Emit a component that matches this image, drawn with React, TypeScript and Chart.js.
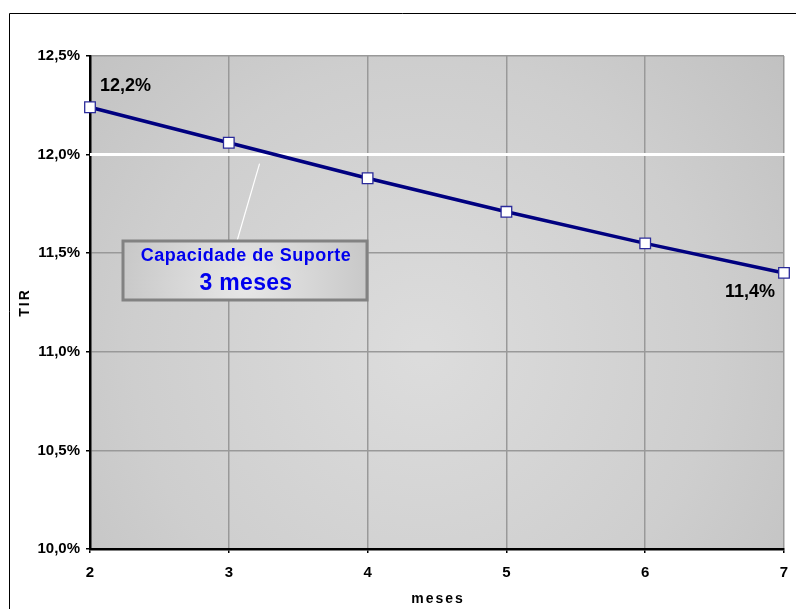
import React, { useEffect, useRef } from "react";
import { Chart, registerables } from "chart.js";

Chart.register(...registerables);

const months = [2, 3, 4, 5, 6, 7];
const tirValues = [12.24, 12.06, 11.88, 11.71, 11.55, 11.4];
const referenceLevel = 12.0;
const yTicks = [10.0, 10.5, 11.0, 11.5, 12.0, 12.5];
const firstLabel = "12,2%";
const lastLabel = "11,4%";
const calloutLines = ["Capacidade de Suporte", "3 meses"];
const xTitle = "meses";
const yTitle = "TIR";

const fmtPct = (v: number) => v.toFixed(1).replace(".", ",") + "%";

const FONT = "'Liberation Sans', Arial, sans-serif";

const decorPlugin = {
  id: "decor",
  beforeDraw(chart: any) {
    const { ctx, chartArea: a } = chart;
    ctx.save();
    const cx = a.left + (a.right - a.left) * 0.48;
    const cy = a.top + (a.bottom - a.top) * 0.6;
    const g = ctx.createRadialGradient(cx, cy, 10, cx, cy, 520);
    g.addColorStop(0, "#dcdcdc");
    g.addColorStop(0.55, "#cecece");
    g.addColorStop(1, "#bdbdbd");
    ctx.fillStyle = g;
    ctx.fillRect(a.left, a.top, a.right - a.left, a.bottom - a.top);
    // outer frame
    ctx.strokeStyle = "#000";
    ctx.lineWidth = 1;
    ctx.beginPath();
    ctx.moveTo(9.5, chart.height);
    ctx.lineTo(9.5, 13.5);
    ctx.lineTo(chart.width, 13.5);
    ctx.stroke();
    ctx.restore();
  },
  beforeDatasetsDraw(chart: any) {
    const { ctx, chartArea: a, scales } = chart;
    const y = scales.y.getPixelForValue(referenceLevel);
    ctx.save();
    ctx.strokeStyle = "#ffffff";
    ctx.lineWidth = 3;
    ctx.beginPath();
    ctx.moveTo(a.left, y);
    ctx.lineTo(a.right + 1, y);
    ctx.stroke();
    ctx.restore();
  },
  afterDraw(chart: any) {
    const { ctx, chartArea: a, scales } = chart;
    const meta = chart.getDatasetMeta(0);
    const p0 = meta.data[0];
    const pN = meta.data[meta.data.length - 1];
    ctx.save();
    ctx.fillStyle = "#000";
    ctx.font = `bold 18px ${FONT}`;
    ctx.textBaseline = "middle";
    ctx.textAlign = "left";
    ctx.fillText(firstLabel, p0.x + 10, p0.y - 21);
    ctx.textAlign = "right";
    ctx.fillText(lastLabel, pN.x - 9, pN.y + 19);

    // axis titles
    ctx.font = `bold 14px ${FONT}`;
    (ctx as any).letterSpacing = "2px";
    ctx.textAlign = "center";
    ctx.fillText(xTitle, (a.left + a.right) / 2 + 1, 599);
    ctx.save();
    ctx.translate(25, (a.top + a.bottom) / 2);
    ctx.rotate(-Math.PI / 2);
    ctx.fillText(yTitle, 0, 0);
    ctx.restore();
    (ctx as any).letterSpacing = "0px";

    // callout
    const bx = 123, by = 241, bw = 244, bh = 59;
    const ix = scales.x.getPixelForValue(3.2);
    const iy = scales.y.getPixelForValue(referenceLevel) + 9;
    ctx.strokeStyle = "#ffffff";
    ctx.lineWidth = 1.2;
    ctx.beginPath();
    ctx.moveTo(bx + 114, by);
    ctx.lineTo(ix + 3, iy);
    ctx.stroke();

    const gc = ctx.createRadialGradient(bx + bw / 2, by + bh * 0.75, 5, bx + bw / 2, by + bh * 0.75, 140);
    gc.addColorStop(0, "#e6e6e6");
    gc.addColorStop(1, "#c4c4c4");
    ctx.fillStyle = gc;
    ctx.fillRect(bx, by, bw, bh);
    ctx.strokeStyle = "#828282";
    ctx.lineWidth = 3;
    ctx.strokeRect(bx, by, bw, bh);

    ctx.fillStyle = "#0000ee";
    ctx.textAlign = "center";
    ctx.font = `bold 18px ${FONT}`;
    (ctx as any).letterSpacing = "0.5px";
    ctx.fillText(calloutLines[0], bx + bw / 2 + 1, by + 15);
    ctx.font = `bold 23px ${FONT}`;
    (ctx as any).letterSpacing = "0.3px";
    ctx.fillText(calloutLines[1], bx + bw / 2 + 1, by + 43);
    (ctx as any).letterSpacing = "0px";
    ctx.restore();
  },
};

export default function App() {
  const ref = useRef<HTMLCanvasElement | null>(null);
  useEffect(() => {
    if (!ref.current) return;
    const chart = new Chart(ref.current, {
      type: "line",
      data: {
        datasets: [
          {
            data: months.map((m, i) => ({ x: m, y: tirValues[i] })),
            borderColor: "#000080",
            borderWidth: 3.5,
            pointStyle: "rect",
            pointRadius: 7.5,
            pointBackgroundColor: "#ffffff",
            pointBorderColor: "#2a2a9a",
            pointBorderWidth: 1.3,
            tension: 0,
            clip: false as any,
          },
        ],
      },
      options: {
        animation: false,
        responsive: false,
        maintainAspectRatio: false,
        layout: { padding: { top: 56, right: 12, left: 0, bottom: 0 } },
        plugins: { legend: { display: false }, tooltip: { enabled: false } },
        scales: {
          x: {
            type: "linear",
            min: 2,
            max: 7,
            afterFit: (s: any) => {
              s.height = 60;
              s.paddingRight = 0;
              s.paddingLeft = 0;
            },
            afterBuildTicks: (s: any) => {
              s.ticks = months.map((v) => ({ value: v }));
            },
            ticks: {
              color: "#000",
              font: { family: FONT, size: 15, weight: "bold" },
              padding: 11,
              maxRotation: 0,
              callback: (v: any) => String(v),
            },
            grid: { color: "#999999", lineWidth: 1.5, tickColor: "#000", tickLength: 4, drawTicks: true },
            border: { color: "#000", width: 2.5 },
          },
          y: {
            type: "linear",
            min: 10,
            max: 12.5,
            afterFit: (s: any) => {
              s.width = 90;
            },
            afterBuildTicks: (s: any) => {
              s.ticks = yTicks.map((v) => ({ value: v }));
            },
            ticks: {
              color: "#000",
              font: { family: FONT, size: 15, weight: "bold" },
              padding: 6,
              callback: (v: any) => fmtPct(Number(v)),
            },
            grid: { color: "#999999", lineWidth: 1.5, tickColor: "#000", tickLength: 4 },
            border: { color: "#000", width: 2.5 },
          },
        },
      },
      plugins: [decorPlugin],
    });
    return () => chart.destroy();
  }, []);
  return (
    <div style={{ position: "absolute", left: 0, top: 0, width: 796, height: 609, background: "#fff" }}>
      <canvas ref={ref} width={796} height={609} style={{ display: "block", width: 796, height: 609 }} />
    </div>
  );
}
